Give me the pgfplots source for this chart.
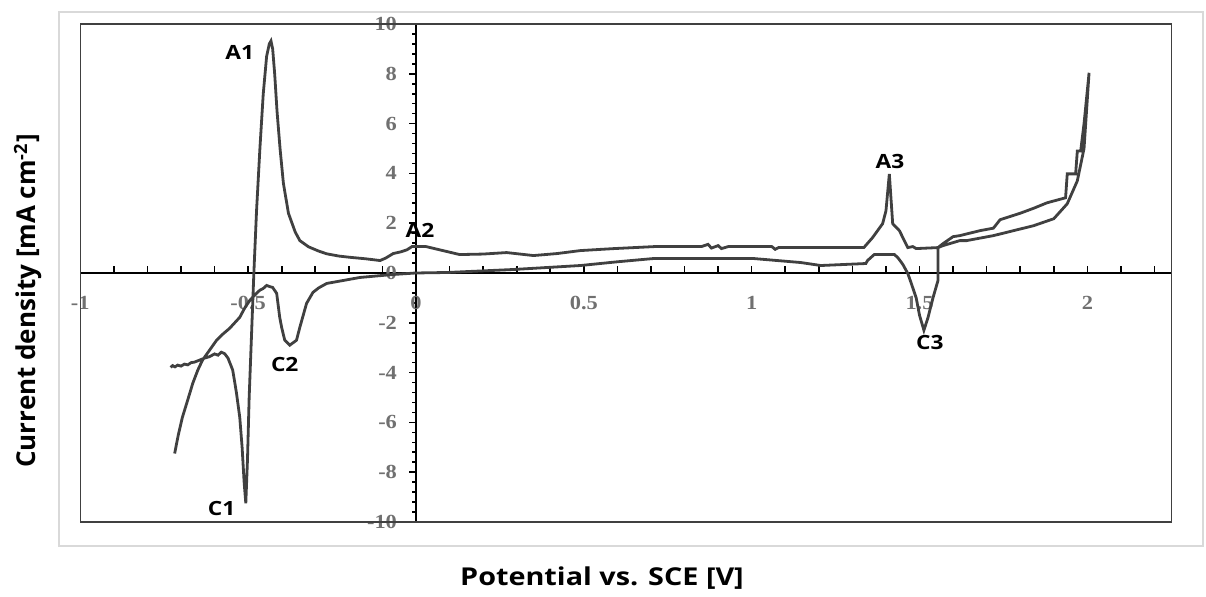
\documentclass[border=0pt]{standalone}
\usepackage{pgfplots}
\pgfplotsset{compat=1.18}
\usepackage{fontspec}
\setmainfont{Open Sans}
\newfontfamily\xlabfont[FakeStretch=1.17]{Open Sans}
\newfontfamily\annfont[FakeStretch=1.16]{Open Sans}
\newfontfamily\tickfont[FakeStretch=1.12]{Liberation Serif}
\definecolor{curve}{HTML}{404040}
\definecolor{ticklab}{HTML}{707070}
\begin{document}
\begin{tikzpicture}[x=0.5pt,y=0.5pt]
\useasboundingbox (0,0) rectangle (1206,597);
\draw[draw=black!15,line width=0.6pt] (59,51) rectangle (1203,585);
\coordinate (org) at (416,324);
\begin{axis}[
  at={(org)}, anchor=origin,
  scale only axis, width=545.5pt, height=249pt,
  xmin=-1, xmax=2.25, ymin=-10, ymax=10,
  axis lines=middle,
  x axis line style={-, line width=1pt, black},
  y axis line style={-, line width=1.4pt, black},
  xtick={-1,-0.9,-0.8,-0.7,-0.6,-0.5,-0.4,-0.3,-0.2,-0.1,0,0.1,0.2,0.3,0.4,0.5,0.6,0.7,0.8,0.9,1,1.1,1.2,1.3,1.4,1.5,1.6,1.7,1.8,1.9,2,2.1,2.2},
  xticklabels={-1,,,,,-0.5,,,,,0,,,,,0.5,,,,,1,,,,,1.5,,,,,2,,},
  ytick={-10,-8,...,10},
  minor y tick num=4,
  xtick align=inside, ytick align=outside,
  major tick length=3.5pt, minor tick length=2pt,
  every tick/.style={black, line width=0.8pt},
  hide obscured x ticks=false, hide obscured y ticks=false,
  /pgf/number format/assume math mode=true,
  xticklabel style={font=\tickfont\bfseries\fontsize{10}{11}\selectfont, text=ticklab, yshift=-8pt},
  yticklabel style={font=\tickfont\bfseries\fontsize{10}{11}\selectfont, text=ticklab, xshift=-2.5pt},
  clip=false,
]
\draw[black!75, line width=0.75pt] (rel axis cs:0,0) rectangle (rel axis cs:1,1);
\addplot[curve, line width=1.4pt] coordinates {
(-0.731,-3.79) (-0.725,-3.72) (-0.718,-3.77) (-0.71,-3.70) (-0.70,-3.74) (-0.69,-3.66) (-0.68,-3.69) (-0.67,-3.60) (-0.66,-3.58) (-0.645,-3.50)
(-0.63,-3.42) (-0.615,-3.36) (-0.60,-3.25) (-0.59,-3.30) (-0.58,-3.18) (-0.57,-3.24) (-0.56,-3.42) (-0.546,-3.9) (-0.535,-4.8) (-0.525,-5.8)
(-0.518,-7.0) (-0.512,-8.4) (-0.507,-9.25) (-0.502,-7.5) (-0.497,-5.0) (-0.49,-2.5) (-0.483,0) (-0.475,2.5) (-0.465,5.0) (-0.455,7.2)
(-0.445,8.7) (-0.437,9.2) (-0.432,9.32) (-0.427,9.0) (-0.421,8.0) (-0.414,6.5) (-0.405,5.0) (-0.395,3.6) (-0.380,2.4) (-0.36,1.65)
(-0.346,1.3) (-0.32,1.05) (-0.29,0.88) (-0.266,0.77) (-0.23,0.68) (-0.197,0.63) (-0.15,0.57) (-0.107,0.5) (-0.09,0.6) (-0.068,0.78)
(-0.045,0.85) (-0.027,0.93) (-0.012,1.06) (0.03,1.06) (0.08,0.9) (0.13,0.74) (0.2,0.76) (0.27,0.82) (0.35,0.7) (0.42,0.78)
(0.49,0.9) (0.59,0.98) (0.71,1.06) (0.85,1.06) (0.87,1.15) (0.88,1.0) (0.9,1.1) (0.91,0.98) (0.93,1.06) (1.06,1.06)
(1.07,0.95) (1.08,1.02) (1.24,1.02) (1.334,1.02) (1.36,1.42) (1.39,1.98) (1.40,2.5) (1.41,3.98) (1.42,1.98) (1.44,1.7)
(1.465,1.02) (1.48,1.06) (1.49,0.98) (1.555,1.02) (1.57,1.1) (1.62,1.3) (1.64,1.3) (1.72,1.5) (1.78,1.7) (1.84,1.9)
(1.90,2.18) (1.94,2.78) (1.97,3.7) (1.99,5.0) (2.005,8.04)
(1.99,6.0) (1.98,4.9) (1.97,4.9) (1.965,3.98) (1.94,3.98) (1.935,3.02) (1.88,2.82) (1.84,2.6) (1.80,2.4) (1.74,2.14)
(1.72,1.8) (1.68,1.7) (1.62,1.5) (1.60,1.46) (1.57,1.18) (1.555,1.02) (1.555,-0.3) (1.54,-1.0) (1.525,-1.8) (1.513,-2.3)
(1.50,-1.7) (1.49,-1.0) (1.475,-0.4) (1.465,-0.02) (1.45,0.35) (1.435,0.62) (1.425,0.74) (1.365,0.74) (1.345,0.5) (1.34,0.38)
(1.206,0.3) (1.146,0.42) (1.006,0.58) (0.707,0.58) (0.6,0.45) (0.49,0.3) (0.29,0.14) (0.093,0.02) (0,0) (-0.068,-0.06)
(-0.167,-0.18) (-0.266,-0.42) (-0.29,-0.6) (-0.307,-0.78) (-0.326,-1.22) (-0.346,-2.18) (-0.356,-2.7) (-0.366,-2.8) (-0.376,-2.9) (-0.391,-2.7)
(-0.40,-2.2) (-0.406,-1.78) (-0.415,-0.82) (-0.427,-0.58) (-0.435,-0.55) (-0.445,-0.5) (-0.455,-0.62) (-0.466,-0.7) (-0.475,-0.82) (-0.485,-0.95)
(-0.495,-1.1) (-0.51,-1.4) (-0.525,-1.78) (-0.555,-2.22) (-0.575,-2.45) (-0.594,-2.7) (-0.615,-3.1) (-0.636,-3.5) (-0.65,-3.9) (-0.665,-4.43)
(-0.68,-5.1) (-0.696,-5.8) (-0.708,-6.5) (-0.719,-7.25)
};
\begin{scope}[every node/.style={font=\annfont\bfseries\fontsize{9.8}{11}\selectfont, text=black, inner sep=0pt}]
\node at (axis cs:-0.525,8.84) {A1};
\node at (axis cs:0.012,1.73) {A2};
\node at (axis cs:1.412,4.46) {A3};
\node at (axis cs:-0.579,-9.44) {C1};
\node at (axis cs:-0.391,-3.69) {C2};
\node at (axis cs:1.531,-2.81) {C3};
\end{scope}
\end{axis}
\node[font=\xlabfont\bfseries\fontsize{12.3}{14}\selectfont] at (602,19) {Potential vs. SCE [V]};
\node[font=\bfseries\fontsize{13}{15}\selectfont, rotate=90] at (28,296) {Current density [mA cm\textsuperscript{-2}]};
\end{tikzpicture}
\end{document}
